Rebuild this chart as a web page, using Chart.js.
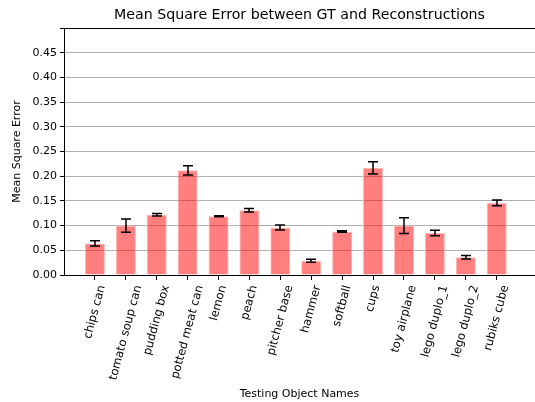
<!DOCTYPE html>
<html>
<head>
<meta charset="utf-8">
<script src="https://cdn.jsdelivr.net/npm/chart.js@4"></script>
<style>
  html, body { margin: 0; padding: 0; background: #fff; overflow: hidden; }
  #wrap { width: 535px; height: 402px; position: relative; }
</style>
</head>
<body>
<div id="wrap"><canvas id="chart"></canvas></div>
<script>
// values
const objectNames = ['chips can', 'tomato soup can', 'pudding box', 'potted meat can', 'lemon', 'peach',
  'pitcher base', 'hammer', 'softball', 'cups', 'toy airplane', 'lego duplo_1', 'lego duplo_2', 'rubiks cube'];
const mseMeans = [0.064, 0.100, 0.122, 0.212, 0.119, 0.131, 0.096, 0.029, 0.088, 0.217, 0.100, 0.085, 0.036, 0.146];
const mseErrors = [0.0054, 0.0135, 0.0027, 0.0094, 0.0010, 0.0034, 0.0050, 0.0030, 0.0014, 0.0125, 0.0160, 0.0057, 0.0034, 0.0060];
const yTickValues = [0, 0.05, 0.10, 0.15, 0.20, 0.25, 0.30, 0.35, 0.40, 0.45];

const FONT = 'DejaVu Sans';

// error bars, drawn with the chart's own scales
const errorBarPlugin = {
  id: 'errorBars',
  afterDatasetsDraw(chart) {
    const ctx = chart.ctx;
    const xs = chart.scales.x, ys = chart.scales.y;
    ctx.save();
    ctx.strokeStyle = '#000';
    ctx.lineWidth = 1.5;
    mseMeans.forEach((m, i) => {
      const px = Math.round(xs.getPixelForValue(i));
      const top = ys.getPixelForValue(m + mseErrors[i]);
      const bot = ys.getPixelForValue(m - mseErrors[i]);
      ctx.beginPath();
      ctx.moveTo(px, top); ctx.lineTo(px, bot);
      ctx.moveTo(px - 5, top); ctx.lineTo(px + 5, top);
      ctx.moveTo(px - 5, bot); ctx.lineTo(px + 5, bot);
      ctx.stroke();
    });
    ctx.restore();
  }
};

// top spine plus rotated category names centred under each tick (matplotlib style)
const axisDecorPlugin = {
  id: 'axisDecor',
  afterDraw(chart) {
    const ctx = chart.ctx;
    const area = chart.chartArea;
    const xs = chart.scales.x;
    ctx.save();
    ctx.strokeStyle = '#000';
    ctx.lineWidth = 1;
    ctx.beginPath();
    ctx.moveTo(area.left, Math.round(area.top) + 0.5);
    ctx.lineTo(area.right, Math.round(area.top) + 0.5);
    ctx.stroke();

    const ang = 75 * Math.PI / 180;
    const size = 11.6;
    ctx.font = size + 'px "' + FONT + '"';
    ctx.fillStyle = '#000';
    ctx.textAlign = 'center';
    ctx.textBaseline = 'middle';
    objectNames.forEach((name, i) => {
      const w = ctx.measureText(name).width;
      const boxH = w * Math.sin(ang) + size * Math.cos(ang);
      const cx = xs.getPixelForValue(i);
      const cy = area.bottom + 5 + 4 + boxH / 2;
      ctx.save();
      ctx.translate(cx, cy);
      ctx.rotate(-ang);
      ctx.fillText(name, 0, 0);
      ctx.restore();
    });
    ctx.restore();
  }
};

const ctx = document.getElementById('chart');
new Chart(ctx, {
  type: 'bar',
  data: {
    datasets: [{
      data: objectNames.map((n, i) => ({ x: i, y: mseMeans[i] })),
      backgroundColor: 'rgba(255, 0, 0, 0.5)',
      borderColor: 'rgba(255, 190, 190, 1)',
      borderWidth: 1,
      barPercentage: 0.65,
      categoryPercentage: 1.0
    }]
  },
  options: {
    responsive: true,
    maintainAspectRatio: false,
    animation: false,
    layout: { padding: 0 },
    plugins: {
      legend: { display: false },
      tooltip: { enabled: false },
      title: {
        display: true,
        fullSize: false,
        text: 'Mean Square Error between GT and Reconstructions',
        color: '#000',
        font: { family: FONT, size: 14.2, weight: 'normal' },
        padding: { top: 7, bottom: 4 }
      }
    },
    scales: {
      x: {
        type: 'linear',
        offset: false,
        min: -1,
        max: 14.24,
        afterBuildTicks: (scale) => { scale.ticks = objectNames.map((n, i) => ({ value: i })); },
        afterFit: (scale) => { scale.height = 127; },
        grid: { offset: false, drawOnChartArea: false, drawTicks: true, tickLength: 5, tickColor: '#000' },
        border: { color: '#000', width: 1 },
        ticks: { callback: () => '', maxRotation: 0, autoSkip: false },
        title: {
          display: true,
          text: 'Testing Object Names',
          color: '#000',
          font: { family: FONT, size: 11 },
          padding: { top: 0, bottom: 1.5 }
        }
      },
      y: {
        min: 0,
        max: 0.5,
        afterBuildTicks: (scale) => { scale.ticks = yTickValues.concat([0.5]).map(v => ({ value: v })); },
        afterFit: (scale) => { scale.width = 64; },
        grid: { color: '#b0b0b0', lineWidth: 1, tickColor: '#000', tickLength: 4 },
        border: { color: '#000', width: 1 },
        ticks: {
          color: '#000',
          padding: 3,
          font: { family: FONT, size: 11 },
          callback: (v) => (v > 0.49 ? '' : v.toFixed(2))
        },
        title: {
          display: true,
          text: 'Mean Square Error',
          color: '#000',
          font: { family: FONT, size: 11 },
          padding: { top: 11, bottom: 0 }
        }
      }
    }
  },
  plugins: [errorBarPlugin, axisDecorPlugin]
});
</script>
</body>
</html>
